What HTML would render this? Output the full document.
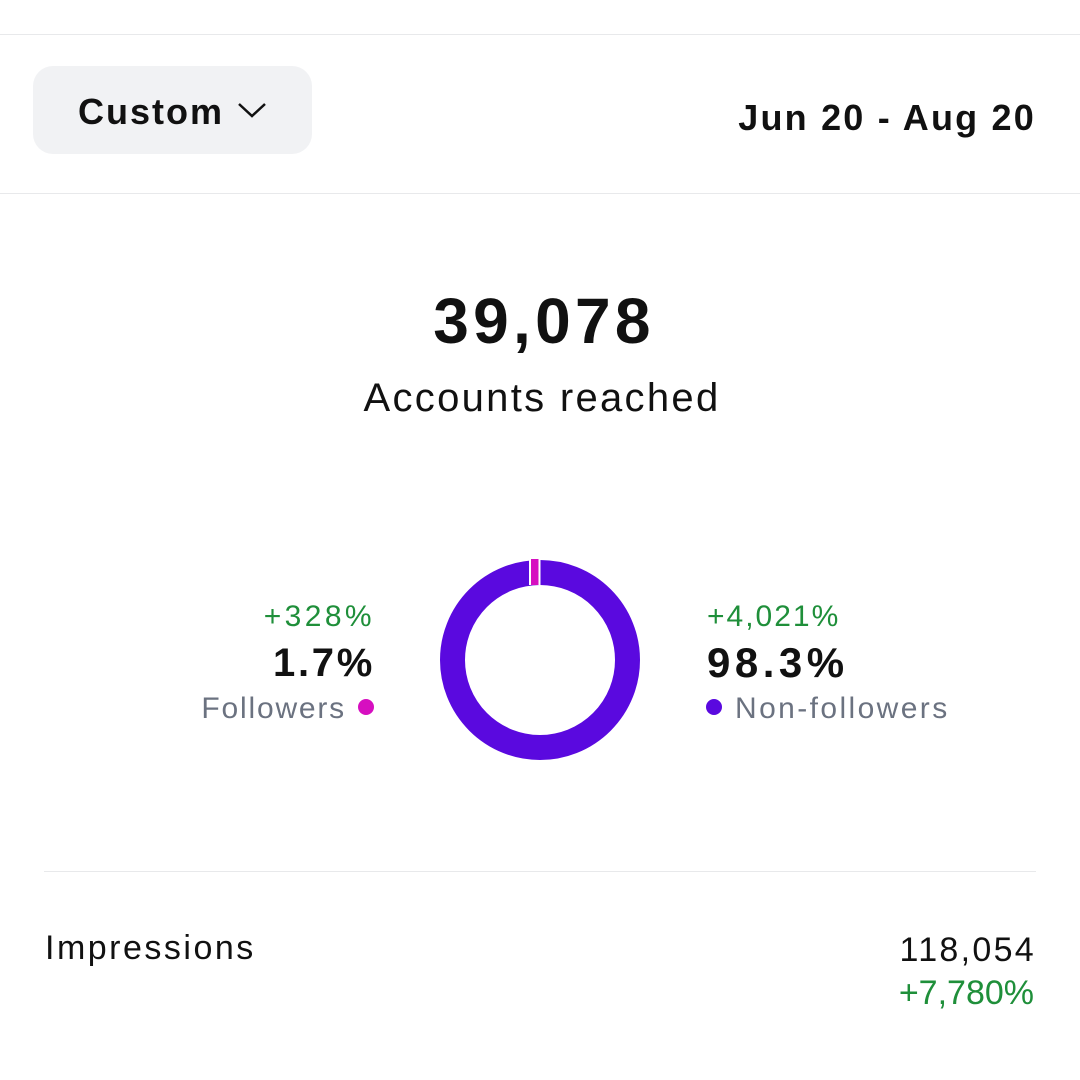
<!DOCTYPE html>
<html><head><meta charset="utf-8"><style>
html,body{margin:0;padding:0;background:#fff;}
body{width:1080px;height:1080px;position:relative;overflow:hidden;font-family:"Liberation Sans",Arial,sans-serif;color:#111;}
.t{position:absolute;line-height:1;white-space:nowrap;}
.hr{position:absolute;height:1px;background:#e8e9eb;}
.g{color:#1f8f3a;}
.gr{color:#6b7280;}
</style></head><body>
<div class="hr" style="left:0;width:1080px;top:34px"></div>
<div style="position:absolute;left:33px;top:66px;width:279px;height:88px;border-radius:20px;background:#f1f2f4"></div>
<div class="t" style="left:78px;top:94px;font-size:36px;font-weight:bold;letter-spacing:2px">Custom</div>
<svg style="position:absolute;left:236px;top:100px" width="32" height="20"><polyline points="3,4 16,16 29,4" fill="none" stroke="#111" stroke-width="2.5"/></svg>
<div class="t" style="right:44px;top:100px;font-size:36px;font-weight:bold;letter-spacing:2.2px">Jun 20 - Aug 20</div>
<div class="hr" style="left:0;width:1080px;top:193px"></div>
<div class="t" style="left:4px;width:1080px;text-align:center;top:289px;font-size:64px;font-weight:bold;letter-spacing:4.3px">39,078</div>
<div class="t" style="left:2px;width:1080px;text-align:center;top:378px;font-size:40px;letter-spacing:2.3px">Accounts reached</div>
<svg style="position:absolute;left:430px;top:550px" width="220" height="220">
<circle cx="110" cy="110" r="87.5" fill="none" stroke="#5a09df" stroke-width="25"/>
<rect x="101" y="9" width="8" height="26" fill="#d60fc0"/>
<rect x="108.5" y="9" width="2" height="26" fill="#fff"/>
<rect x="99" y="9" width="2" height="26" fill="#fff"/>
</svg>
<div class="t g" style="right:705px;top:602px;font-size:30px;letter-spacing:3.4px">+328%</div>
<div class="t" style="right:705px;top:643px;font-size:40px;font-weight:bold;letter-spacing:2.7px">1.7%</div>
<div class="t gr" style="right:734px;top:694px;font-size:30px;letter-spacing:1.8px">Followers</div>
<div style="position:absolute;left:358px;top:699px;width:16px;height:16px;border-radius:50%;background:#d60fc0"></div>
<div class="t g" style="left:707px;top:602px;font-size:30px;letter-spacing:2px">+4,021%</div>
<div class="t" style="left:707px;top:642px;font-size:42px;font-weight:bold;letter-spacing:4.5px">98.3%</div>
<div style="position:absolute;left:706px;top:699px;width:16px;height:16px;border-radius:50%;background:#5a09df"></div>
<div class="t gr" style="left:735px;top:694px;font-size:30px;letter-spacing:2.4px">Non-followers</div>
<div class="hr" style="left:44px;width:992px;top:871px"></div>
<div class="t" style="left:45px;top:931px;font-size:34px;letter-spacing:2.5px">Impressions</div>
<div class="t" style="right:44px;top:933px;font-size:34px;letter-spacing:2.3px">118,054</div>
<div class="t g" style="right:46px;top:976px;font-size:34px">+7,780%</div>
</body></html>
